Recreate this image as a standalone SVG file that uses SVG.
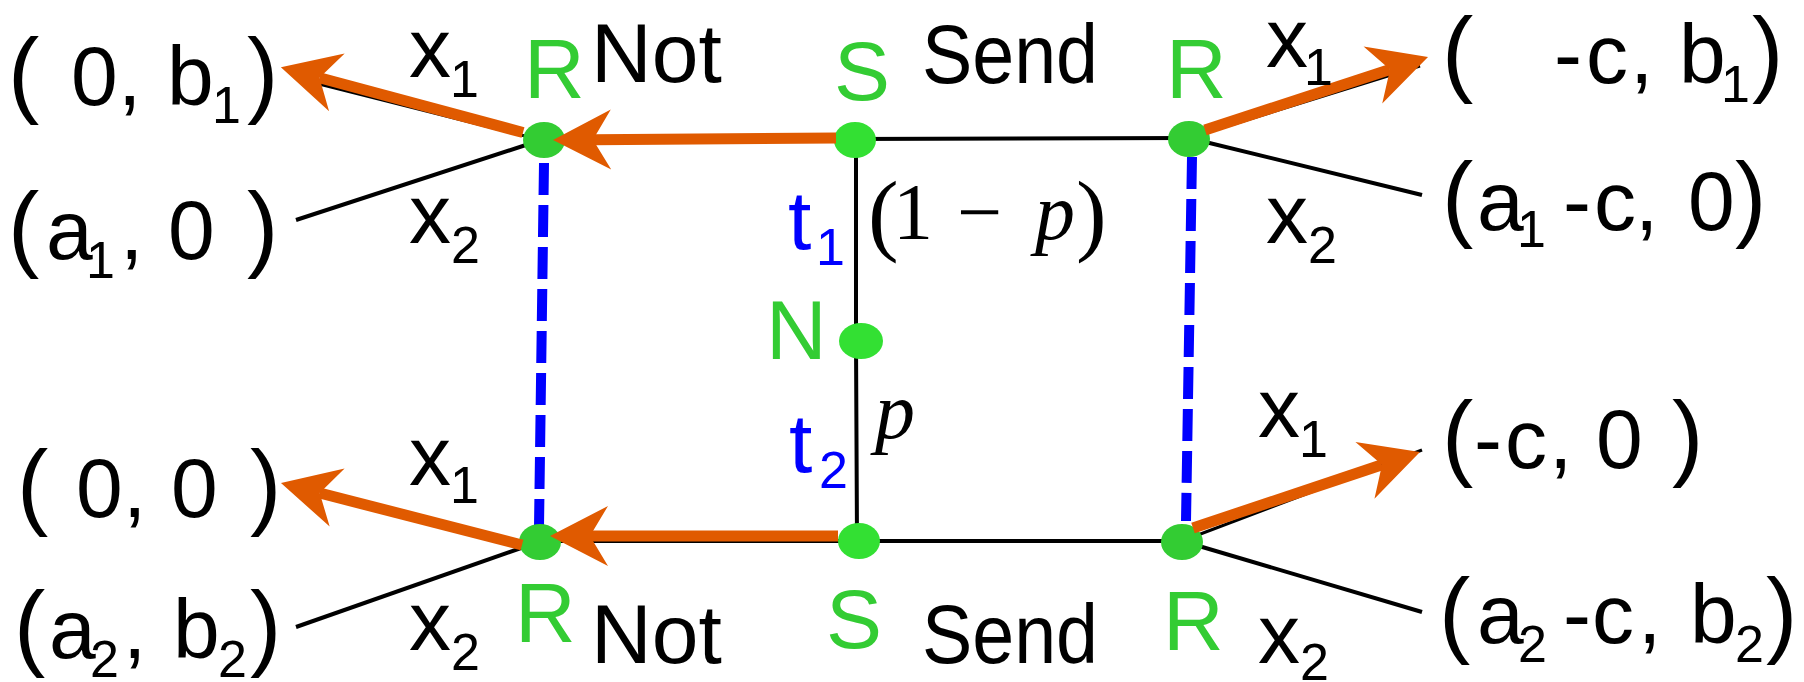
<svg xmlns="http://www.w3.org/2000/svg" width="1804" height="682" viewBox="0 0 1804 682">
<style>
.t{font-family:"Liberation Sans",Arial,sans-serif;font-size:84px;fill:#000}
.sb{font-size:52px}
.pa{font-size:94px}
.g{fill:#33cc33}
.b{fill:#0000ff}
.m{font-family:"Liberation Serif","Times New Roman",serif;font-size:80px;fill:#000}
.ln{stroke:#000;stroke-width:4;fill:none}
.thin{stroke-width:3}
.dash{stroke:#0000ff;stroke-width:10;stroke-dasharray:32 10;fill:none}
.or{stroke:#e05a00;stroke-width:11;fill:none;marker-end:url(#ah)}
.nr{fill:#33cc33}
.ns{fill:#33e033}
</style>
<defs>
<marker id="ah" markerUnits="userSpaceOnUse" markerWidth="64" markerHeight="66" viewBox="-62 -33 64 66" refX="-40" refY="0" orient="auto">
<path d="M0,0 L-58,-30 L-40,0 L-58,30 Z" fill="#e05a00"/>
</marker>
</defs>
<g id="connectors">
<line class="ln thin" x1="541" y1="140" x2="319" y2="84"/>
<line class="ln" x1="541" y1="140" x2="296" y2="220"/>
<line class="ln" x1="541" y1="140" x2="1189" y2="138"/>
<line class="ln thin" x1="1189" y1="138" x2="1420" y2="66"/>
<line class="ln" x1="1189" y1="138" x2="1422" y2="195"/>
<polyline class="ln" points="856,140 856,342 857,541"/>
<line class="ln" x1="541" y1="541" x2="1182" y2="541"/>
<line class="ln" x1="541" y1="541" x2="296" y2="627"/>
<line class="ln thin" x1="1182" y1="541" x2="1422" y2="450"/>
<line class="ln" x1="1182" y1="541" x2="1422" y2="612"/>
<line class="dash" x1="544" y1="163" x2="539" y2="527"/>
<line class="dash" x1="1192" y1="157" x2="1186" y2="521"/>
</g>
<g id="node-R-top-left"><ellipse class="nr" cx="544" cy="140" rx="21" ry="18"/><text class="t g" x="524" y="98">R</text></g>
<g id="node-S-top"><ellipse class="ns" cx="855" cy="140" rx="21" ry="18"/><text class="t g" x="834" y="100">S</text></g>
<g id="node-R-top-right"><ellipse class="nr" cx="1189" cy="139" rx="21" ry="18"/><text class="t g" x="1166" y="98">R</text></g>
<g id="node-N"><ellipse class="ns" cx="861" cy="341" rx="22" ry="18"/><text class="t g" x="766" y="359">N</text></g>
<g id="node-R-bottom-left"><ellipse class="nr" cx="540" cy="542" rx="21" ry="18"/><text class="t g" x="515" y="642">R</text></g>
<g id="node-S-bottom"><ellipse class="ns" cx="859" cy="541" rx="21" ry="18"/><text class="t g" x="826" y="648">S</text></g>
<g id="node-R-bottom-right"><ellipse class="nr" cx="1182" cy="542" rx="21" ry="18"/><text class="t g" x="1163" y="650">R</text></g>
<g id="arrows">
<line class="or" x1="836" y1="138" x2="593" y2="139.7"/>
<line class="or" x1="523" y1="132.5" x2="319.5" y2="77.7"/>
<line class="or" x1="1205" y1="130" x2="1390" y2="69.4"/>
<line class="or" x1="838" y1="536" x2="590" y2="536"/>
<line class="or" x1="522" y1="545" x2="319.7" y2="493"/>
<line class="or" x1="1193" y1="528" x2="1382" y2="464.7"/>
</g>
<g id="labels">
<text class="t" x="591" y="82">Not</text>
<text class="t" x="922" y="83" textLength="176" lengthAdjust="spacingAndGlyphs">Send</text>
<text class="t" x="591" y="663">Not</text>
<text class="t" x="922" y="663" textLength="176" lengthAdjust="spacingAndGlyphs">Send</text>
<text class="t b" x="788" y="249">t<tspan class="sb" x="816" y="265">1</tspan></text>
<text class="t b" x="789" y="472">t<tspan class="sb" x="819" y="488">2</tspan></text>
<text class="m"><tspan x="868" y="244" font-size="92">(</tspan><tspan x="893" y="239">1</tspan><tspan x="957" y="239">−</tspan><tspan x="1035" y="239" font-style="italic">p</tspan><tspan x="1076" y="244" font-size="92">)</tspan></text>
<text class="m" x="875" y="438" font-style="italic">p</text>
<text class="t" x="409" y="77">x<tspan class="sb" x="450" y="97">1</tspan></text>
<text class="t" x="409" y="243">x<tspan class="sb" x="451" y="263">2</tspan></text>
<text class="t" x="1266" y="67">x<tspan class="sb" x="1304" y="85">1</tspan></text>
<text class="t" x="1266" y="243">x<tspan class="sb" x="1308" y="263">2</tspan></text>
<text class="t" x="409" y="485">x<tspan class="sb" x="450" y="503">1</tspan></text>
<text class="t" x="409" y="650">x<tspan class="sb" x="451" y="670">2</tspan></text>
<text class="t" x="1258" y="437">x<tspan class="sb" x="1299" y="457">1</tspan></text>
<text class="t" x="1258" y="663">x<tspan class="sb" x="1300" y="680">2</tspan></text>
<text class="t"><tspan class="pa" x="8" y="105">(</tspan><tspan x="71" y="105">0</tspan><tspan x="118" y="105">,</tspan><tspan x="167" y="105">b</tspan><tspan class="sb" x="212" y="123">1</tspan><tspan class="pa" x="247" y="105">)</tspan></text>
<text class="t"><tspan class="pa" x="8" y="259">(</tspan><tspan x="46" y="259">a</tspan><tspan class="sb" x="86" y="278">1</tspan><tspan x="120" y="259">,</tspan><tspan x="168" y="259">0</tspan><tspan class="pa" x="247" y="259">)</tspan></text>
<text class="t"><tspan class="pa" x="17" y="517">(</tspan><tspan x="76" y="517">0</tspan><tspan x="123" y="517">,</tspan><tspan x="171" y="517">0</tspan><tspan class="pa" x="250" y="517">)</tspan></text>
<text class="t"><tspan class="pa" x="14" y="658">(</tspan><tspan x="49" y="658">a</tspan><tspan class="sb" x="90" y="677">2</tspan><tspan x="123" y="658">,</tspan><tspan x="173" y="658">b</tspan><tspan class="sb" x="218" y="677">2</tspan><tspan class="pa" x="250" y="658">)</tspan></text>
<text class="t"><tspan class="pa" x="1442" y="84">(</tspan><tspan x="1554" y="83">-</tspan><tspan x="1586" y="83">c</tspan><tspan x="1630" y="83">,</tspan><tspan x="1679" y="83">b</tspan><tspan class="sb" x="1721" y="102">1</tspan><tspan class="pa" x="1752" y="84">)</tspan></text>
<text class="t"><tspan class="pa" x="1442" y="229">(</tspan><tspan x="1477" y="230">a</tspan><tspan class="sb" x="1517" y="247">1</tspan><tspan x="1563" y="230">-</tspan><tspan x="1594" y="230">c</tspan><tspan x="1635" y="230">,</tspan><tspan x="1688" y="230">0</tspan><tspan class="pa" x="1735" y="229">)</tspan></text>
<text class="t"><tspan class="pa" x="1442" y="468">(</tspan><tspan x="1474" y="468">-</tspan><tspan x="1505" y="468">c</tspan><tspan x="1549" y="468">,</tspan><tspan x="1596" y="468">0</tspan><tspan class="pa" x="1672" y="468">)</tspan></text>
<text class="t"><tspan class="pa" x="1439" y="645">(</tspan><tspan x="1477" y="643">a</tspan><tspan class="sb" x="1518" y="662">2</tspan><tspan x="1563" y="643">-</tspan><tspan x="1592" y="643">c</tspan><tspan x="1638" y="643">,</tspan><tspan x="1690" y="643">b</tspan><tspan class="sb" x="1735" y="662">2</tspan><tspan class="pa" x="1766" y="645">)</tspan></text>
</g>
</svg>
